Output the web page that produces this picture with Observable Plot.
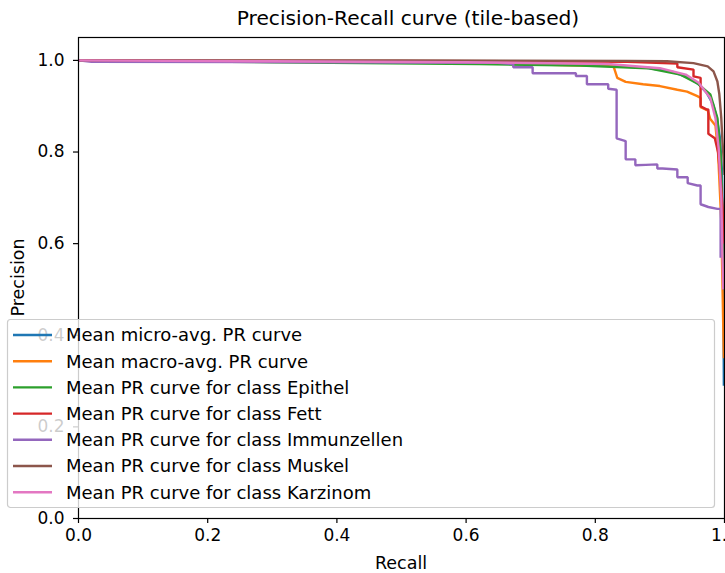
<!DOCTYPE html>
<html>
<head>
<meta charset="utf-8">
<script src="https://cdn.jsdelivr.net/npm/d3@7"></script>
<script src="https://cdn.jsdelivr.net/npm/@observablehq/plot@0.6"></script>
<style>
  html, body { margin: 0; padding: 0; background: white; }
  #chart svg { display: block; }
</style>
</head>
<body>
<div id="chart"></div>
<script>
// ---- data ----
const seriesNames = [
  "Mean micro-avg. PR curve",
  "Mean macro-avg. PR curve",
  "Mean PR curve for class Epithel",
  "Mean PR curve for class Fett",
  "Mean PR curve for class Immunzellen",
  "Mean PR curve for class Muskel",
  "Mean PR curve for class Karzinom"
];
const seriesColors = ["#1f77b4", "#ff7f0e", "#2ca02c", "#d62728", "#9467bd", "#8c564b", "#e377c2"];

const microRecall    = [0, 0.3, 0.6, 0.8, 0.88, 0.92, 0.945, 0.96, 0.972, 0.982, 0.988, 0.993, 0.996, 0.998, 0.999];
const microPrecision = [1.0, 0.998, 0.994, 0.99, 0.984, 0.975, 0.962, 0.948, 0.93, 0.905, 0.875, 0.83, 0.76, 0.6, 0.29];

const macroRecall    = [0, 0.4, 0.65, 0.782, 0.828, 0.834, 0.847, 0.874, 0.9, 0.927, 0.942, 0.958, 0.963, 0.963, 0.974, 0.978, 0.986, 0.99, 0.995, 0.999];
const macroPrecision = [1.0, 0.997, 0.993, 0.989, 0.988, 0.962, 0.953, 0.948, 0.944, 0.936, 0.932, 0.922, 0.918, 0.898, 0.891, 0.872, 0.858, 0.8, 0.65, 0.35];

const epithelRecall    = [0, 0.3, 0.62, 0.777, 0.881, 0.932, 0.958, 0.978, 0.989, 0.994, 0.997, 0.999];
const epithelPrecision = [1.0, 0.996, 0.992, 0.989, 0.983, 0.969, 0.95, 0.926, 0.874, 0.795, 0.65, 0.5];

const fettRecall    = [0, 0.5, 0.85, 0.927, 0.927, 0.952, 0.952, 0.963, 0.963, 0.972, 0.975, 0.975, 0.985, 0.99, 0.994, 0.997, 0.999];
const fettPrecision = [1.0, 0.999, 0.997, 0.993, 0.985, 0.98, 0.965, 0.962, 0.9, 0.893, 0.893, 0.84, 0.83, 0.8, 0.74, 0.68, 0.6];

const immunRecall    = [0, 0.02, 0.649, 0.673, 0.673, 0.703, 0.703, 0.77, 0.77, 0.787, 0.787, 0.82, 0.82, 0.833, 0.833, 0.847, 0.847, 0.862, 0.862, 0.878, 0.896, 0.896, 0.904, 0.927, 0.927, 0.943, 0.943, 0.958, 0.963, 0.963, 0.975, 0.989, 0.994, 0.994];
const immunPrecision = [1.0, 0.997, 0.995, 0.992, 0.985, 0.985, 0.972, 0.972, 0.966, 0.966, 0.948, 0.948, 0.938, 0.936, 0.830, 0.824, 0.784, 0.784, 0.771, 0.772, 0.773, 0.764, 0.764, 0.762, 0.745, 0.745, 0.732, 0.727, 0.727, 0.686, 0.68, 0.676, 0.676, 0.569];

const muskelRecall    = [0, 0.5, 0.85, 0.911, 0.952, 0.974, 0.983, 0.989, 0.992, 0.995, 0.997, 0.999, 1.0];
const muskelPrecision = [1.0, 1.0, 0.999, 0.998, 0.994, 0.987, 0.976, 0.954, 0.926, 0.874, 0.82, 0.78, 0.75];

const karzRecall    = [0, 0.3, 0.6, 0.82, 0.9, 0.94, 0.96, 0.978, 0.986, 0.991, 0.995, 0.998];
const karzPrecision = [1.0, 0.998, 0.996, 0.992, 0.983, 0.969, 0.951, 0.918, 0.874, 0.808, 0.7, 0.5];

const xTicks = [0, 0.2, 0.4, 0.6, 0.8, 1.0];
const yTicks = [0, 0.2, 0.4, 0.6, 0.8, 1.0];
const titleText = "Precision-Recall curve (tile-based)";
const xLabel = "Recall";
const yLabel = "Precision";

// ---- build table ----
const curves = [
  [microRecall, microPrecision],
  [macroRecall, macroPrecision],
  [epithelRecall, epithelPrecision],
  [fettRecall, fettPrecision],
  [immunRecall, immunPrecision],
  [muskelRecall, muskelPrecision],
  [karzRecall, karzPrecision]
];
const rows = [];
curves.forEach(([rs, ps], i) => {
  rs.forEach((r, j) => rows.push({series: seriesNames[i], order: i, recall: r, precision: ps[j]}));
});

const W = 725, H = 573;
const FONT = "DejaVu Sans, sans-serif";

const lineMarks = seriesNames.map((name, i) =>
  Plot.line(rows.filter(d => d.order === i), {
    x: "recall", y: "precision",
    stroke: seriesColors[i], strokeWidth: 2.4,
    strokeLinejoin: "miter", strokeLinecap: "butt"
  })
);

const chart = Plot.plot({
  width: W,
  height: H,
  marginLeft: 78,
  marginRight: 1,
  marginTop: 37,
  marginBottom: 55,
  style: {fontFamily: FONT, fontSize: "17px", color: "black", background: "white", overflow: "visible"},
  x: {domain: [0, 1]},
  y: {domain: [0, 1.05]},
  marks: [
    ...lineMarks,
    Plot.frame({stroke: "black", strokeWidth: 1.2}),
    Plot.axisX({ticks: xTicks, tickFormat: d => d.toFixed(1), tickSize: 5, tickPadding: 5, label: null, fontSize: 17, strokeWidth: 1.2}),
    Plot.axisY({ticks: yTicks, tickFormat: d => d.toFixed(1), tickSize: 5, tickPadding: 9, label: null, fontSize: 17, strokeWidth: 1.2})
  ]
});

document.getElementById("chart").appendChild(chart);

// ---- title, axis labels, legend (decorations) ----
const svg = d3.select(chart);
svg.append("text")
  .attr("x", 408).attr("y", 25)
  .attr("text-anchor", "middle")
  .attr("font-family", FONT).attr("font-size", 20.2)
  .attr("fill", "black")
  .text(titleText);

svg.append("text")
  .attr("x", (78 + W - 1) / 2).attr("y", 569)
  .attr("text-anchor", "middle")
  .attr("font-family", FONT).attr("font-size", 17.5)
  .attr("fill", "black")
  .text(xLabel);

svg.append("text")
  .attr("transform", `translate(24, ${(37 + 518) / 2}) rotate(-90)`)
  .attr("text-anchor", "middle")
  .attr("font-family", FONT).attr("font-size", 17.5)
  .attr("fill", "black")
  .text(yLabel);

const lg = svg.append("g");
lg.append("rect")
  .attr("x", 7.5).attr("y", 319.5).attr("width", 707).attr("height", 188)
  .attr("rx", 3).attr("ry", 3)
  .attr("fill", "white").attr("fill-opacity", 0.8)
  .attr("stroke", "#cccccc").attr("stroke-width", 1.2);

seriesNames.forEach((name, i) => {
  const cy = 335 + i * 26.2;
  lg.append("line")
    .attr("x1", 13).attr("x2", 52).attr("y1", cy).attr("y2", cy)
    .attr("stroke", seriesColors[i]).attr("stroke-width", 2.4);
  lg.append("text")
    .attr("x", 66).attr("y", cy).attr("dy", "0.36em")
    .attr("text-anchor", "start")
    .attr("font-family", FONT).attr("font-size", 18)
    .attr("fill", "black")
    .text(name);
});
</script>
</body>
</html>
